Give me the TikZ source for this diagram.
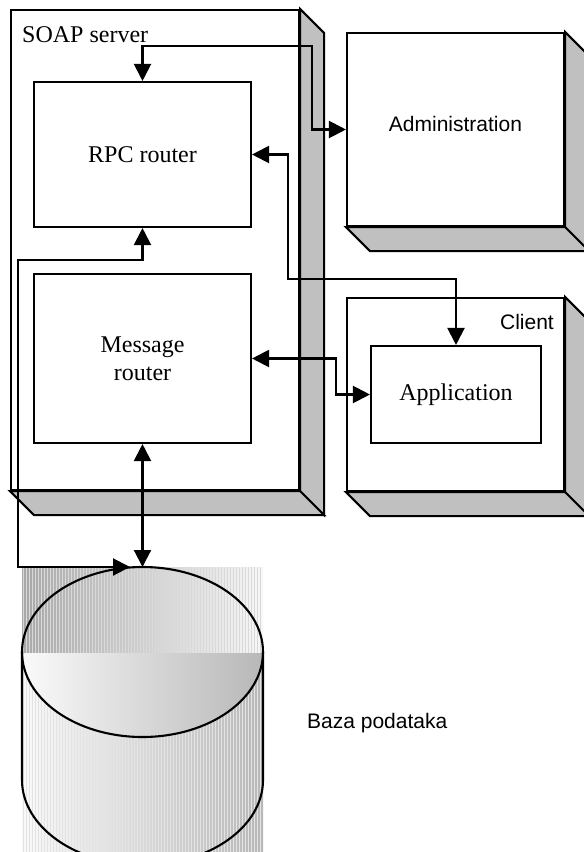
\documentclass[tikz,border=0pt]{standalone}
\usepackage{fontspec}
\setmainfont{Liberation Serif}
\setsansfont{Liberation Sans}
\usetikzlibrary{arrows.meta}
\definecolor{depth}{HTML}{C0C0C0}
\tikzset{
  box/.style={draw=black, line width=2.1pt, fill=white, inner sep=0pt, rectangle},
  serif/.style={font=\fontsize{24}{28}\selectfont\rmfamily},
  sans/.style={font=\fontsize{21}{25}\selectfont\sffamily},
  conn/.style={draw=black, line width=2.1pt, {Triangle[length=17pt,width=17pt]}-{Triangle[length=17pt,width=17pt]}},
  face/.style={draw=black, line width=2.1pt, fill=depth, line join=miter}
}
\newcommand{\threed}[1]{%
  \path[face] (#1.north east) -- ++(24,24) -- ([shift={(24,24)}]#1.south east) -- (#1.south east) -- cycle;
  \path[face] (#1.south west) -- (#1.south east) -- ++(24,24) -- ([shift={(24,24)}]#1.south west) -- cycle;
}
\begin{document}
\begin{tikzpicture}[x=1pt,y=-1pt]
\useasboundingbox (0,0) rectangle (584,852);
\fill[white] (0,0) rectangle (584,852);

% outer 3D boxes
\node[box, minimum width=288, minimum height=480] (soap) at (155,250) {};
\threed{soap}
\node[box, minimum width=217, minimum height=193] (admin) at (455.5,129.5) {};
\threed{admin}
\node[box, minimum width=217, minimum height=193] (client) at (455.5,394.5) {};
\threed{client}

\node[serif, anchor=base west, inner sep=0pt] (soaplbl) at (22,42) {SOAP server};
\node[sans, anchor=base east, inner sep=0pt] (clientlbl) at (554,329) {Client};
\node[sans, inner sep=0pt] (adminlbl) at (455.5,124) {Administration};

% inner boxes
\node[box, serif, minimum width=217, minimum height=145] (rpc) at (142.5,154.5) {RPC router};
\node[box, serif, minimum width=217, minimum height=169, align=center] (msg) at (142.5,358.5) {Message\\router};
\node[box, serif, minimum width=170, minimum height=97] (app) at (456,394.5) {Application};

% database cylinder
\shade[left color=black!34, right color=black!3] (22,567) rectangle (263,653);
\shade[left color=black!2, right color=black!28] (22,653) rectangle (263,852);
\foreach \x in {23,26,...,262} {
  \draw[black!15, line width=0.5pt] (\x,567) -- (\x,653);
  \draw[black!11, line width=0.5pt] (\x,653) -- (\x,852);
}
\begin{scope}
  \clip (142.5,652) ellipse [x radius=120.5, y radius=85];
  \shade[left color=black!2, right color=black!28] (22,653) rectangle (263,740);
\end{scope}
\draw[line width=2.1pt] (142.5,652) ellipse [x radius=120.5, y radius=85];
\draw[line width=2.1pt] (22,652) -- (22,780) arc[start angle=180, end angle=360, x radius=120.5, y radius=-85] -- (263,652);
\node[sans, anchor=base west, inner sep=0pt] (dblbl) at (307,728) {Baza podataka};
\coordinate (dbtop) at (142.5,567);
\coordinate (dbleft) at (130,567);

% connectors
\draw[conn] (rpc.north) |- (312,46) |- (admin.west);
\draw[conn] (rpc.east) -| (288,279) -| (app.north);
\draw[conn] (msg.east) -| (336,394.5) -- (app.west);
\draw[conn] (msg.south) -- (dbtop);
\draw[conn] (rpc.south) |- (18,260) |- (dbleft);
\end{tikzpicture}
\end{document}
